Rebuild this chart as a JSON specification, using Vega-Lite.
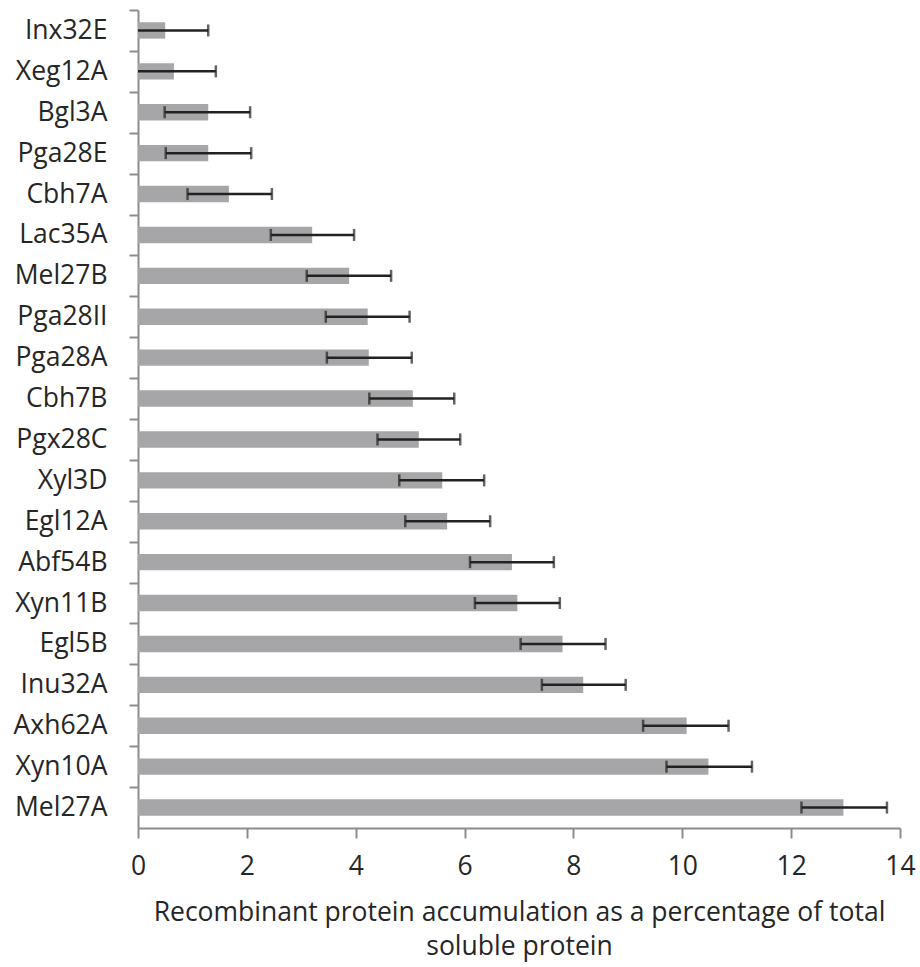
{
  "$schema": "https://vega.github.io/schema/vega-lite/v6.json",
  "width": 762,
  "height": 818,
  "autosize": {"type": "none"},
  "padding": {"left": 138, "top": 10, "right": 20, "bottom": 139},
  "background": "white",
  "config": {
    "view": {"stroke": null},
    "font": "Open Sans"
  },
  "data": {
    "values": [
      {"name": "Inx32E", "value": 0.50, "lo": 0, "hi": 1.29},
      {"name": "Xeg12A", "value": 0.66, "lo": 0, "hi": 1.43},
      {"name": "Bgl3A", "value": 1.29, "lo": 0.49, "hi": 2.06},
      {"name": "Pga28E", "value": 1.29, "lo": 0.51, "hi": 2.08},
      {"name": "Cbh7A", "value": 1.67, "lo": 0.91, "hi": 2.46},
      {"name": "Lac35A", "value": 3.20, "lo": 2.44, "hi": 3.97},
      {"name": "Mel27B", "value": 3.88, "lo": 3.10, "hi": 4.65},
      {"name": "Pga28II", "value": 4.22, "lo": 3.45, "hi": 4.99},
      {"name": "Pga28A", "value": 4.24, "lo": 3.47, "hi": 5.03},
      {"name": "Cbh7B", "value": 5.05, "lo": 4.25, "hi": 5.81},
      {"name": "Pgx28C", "value": 5.16, "lo": 4.40, "hi": 5.92},
      {"name": "Xyl3D", "value": 5.59, "lo": 4.80, "hi": 6.36},
      {"name": "Egl12A", "value": 5.68, "lo": 4.91, "hi": 6.47},
      {"name": "Abf54B", "value": 6.87, "lo": 6.10, "hi": 7.64},
      {"name": "Xyn11B", "value": 6.97, "lo": 6.19, "hi": 7.75},
      {"name": "Egl5B", "value": 7.80, "lo": 7.03, "hi": 8.59},
      {"name": "Inu32A", "value": 8.18, "lo": 7.42, "hi": 8.96},
      {"name": "Axh62A", "value": 10.08, "lo": 9.28, "hi": 10.85},
      {"name": "Xyn10A", "value": 10.48, "lo": 9.71, "hi": 11.28},
      {"name": "Mel27A", "value": 12.96, "lo": 12.19, "hi": 13.76}
    ]
  },
  "encoding": {
    "y": {
      "field": "name",
      "type": "nominal",
      "sort": null,
      "scale": {"paddingInner": 0.6, "paddingOuter": 0.3},
      "axis": {
        "title": null,
        "ticks": true,
        "domainColor": "#8c8c8c",
        "domainWidth": 2,
        "tickColor": "#8c8c8c",
        "tickWidth": 2,
        "tickSize": 9,
        "tickOffset": -20.45,
        "labelOffset": 20.45,
        "labelFontSize": 26.5,
        "labelColor": "#262626",
        "labelPadding": 22,
        "labelFont": "Open Sans"
      }
    }
  },
  "layer": [
    {
      "mark": {"type": "bar", "color": "#a6a6a8"},
      "encoding": {
        "x": {
          "field": "value",
          "type": "quantitative",
          "scale": {"domain": [0, 14], "nice": false},
          "axis": {
            "values": [0, 2, 4, 6, 8, 10, 12, 14],
            "format": "d",
            "grid": false,
            "labelFlush": false,
            "domainColor": "#8c8c8c",
            "domainWidth": 2,
            "tickColor": "#8c8c8c",
            "tickWidth": 2,
            "tickSize": 10,
            "labelFontSize": 26.5,
            "labelColor": "#262626",
            "labelPadding": 15,
            "labelFont": "Open Sans",
            "title": ["Recombinant protein accumulation as a percentage of total", "soluble protein"],
            "titleFontSize": 26.5,
            "titleFontWeight": "normal",
            "titleColor": "#262626",
            "titleFont": "Open Sans",
            "titleLineHeight": 34,
            "titlePadding": 20
          }
        }
      }
    },
    {
      "mark": {"type": "rule", "color": "#222222", "strokeWidth": 2.5},
      "encoding": {
        "x": {"field": "lo", "type": "quantitative"},
        "x2": {"field": "hi"}
      }
    },
    {
      "mark": {"type": "tick", "color": "#222222", "thickness": 2.5, "size": 12},
      "encoding": {
        "x": {"field": "hi", "type": "quantitative"}
      }
    },
    {
      "transform": [{"filter": "datum.lo > 0"}],
      "mark": {"type": "tick", "color": "#222222", "thickness": 2.5, "size": 12},
      "encoding": {
        "x": {"field": "lo", "type": "quantitative"}
      }
    }
  ]
}
